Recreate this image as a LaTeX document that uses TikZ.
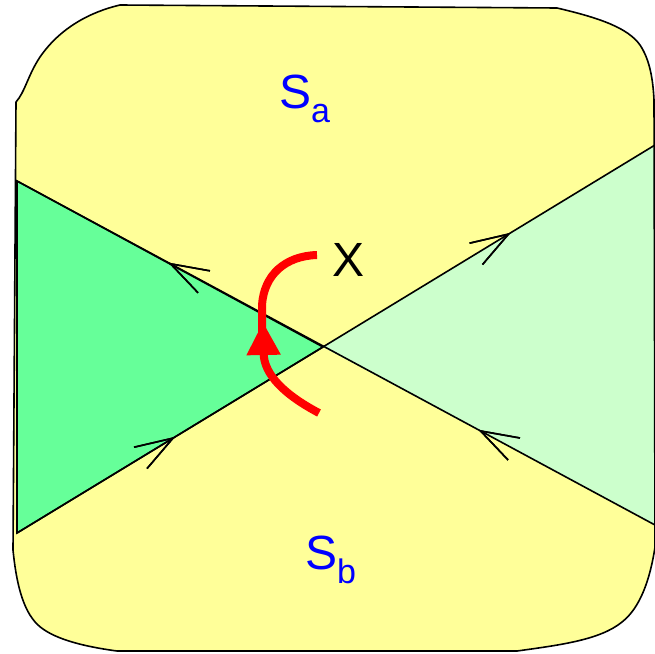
\documentclass[tikz,border=0pt]{standalone}
\usepackage{fontspec}
\setmainfont{Liberation Sans}
\usetikzlibrary{arrows.meta,decorations.markings}
\definecolor{yel}{HTML}{FFFF99}
\definecolor{gdark}{HTML}{66FF99}
\definecolor{glight}{HTML}{CCFFCC}
\tikzset{
  edge/.style={draw=black, line width=1.6pt},
  barb/.style={decoration={markings, mark=at position #1 with {\arrow{Straight Barb[length=38pt,width=25pt]}}}, postaction=decorate},
  lab/.style={inner sep=0pt, anchor=base west, font=\fontsize{48}{48}\selectfont},
  redline/.style={draw=red, line width=8pt}
}
\newcommand{\subtxt}[1]{\raisebox{-14pt}{\fontsize{34}{34}\selectfont #1}}
\begin{document}
\begin{tikzpicture}[x=1pt,y=-1pt]
\useasboundingbox (0,0) rectangle (655,653);
% outline shape
\coordinate (A) at (17,181);
\coordinate (B) at (655,525);
\coordinate (C) at (17,533);
\coordinate (D) at (655,145);
\coordinate (O) at (323,347);
\path[fill=yel] (16,102) .. controls (25,92) and (28,75) .. (40,57) .. controls (60,28) and (90,12) .. (120,5) -- (557,8) .. controls (600,18) and (628,28) .. (640,45) .. controls (650,60) and (653,80) .. (654,100) -- (655,547) .. controls (650,580) and (640,608) .. (622,622) .. controls (600,640) and (560,645) .. (517,651) -- (117,651) .. controls (80,646) and (52,638) .. (38,625) .. controls (22,610) and (16,580) .. (13,550) -- cycle;
\path[fill=gdark, edge] (A) -- (O) -- (C) -- cycle;
\path[fill=glight] (D) -- (O) -- (B) -- cycle;
\draw[edge, barb=0.277, barb=0.763] (B) -- (A);
\draw[edge, barb=0.248, barb=0.774] (C) -- (D);
\draw[edge, line join=round] (16,102) .. controls (25,92) and (28,75) .. (40,57) .. controls (60,28) and (90,12) .. (120,5) -- (557,8) .. controls (600,18) and (628,28) .. (640,45) .. controls (650,60) and (653,80) .. (654,100) -- (655,547) .. controls (650,580) and (640,608) .. (622,622) .. controls (600,640) and (560,645) .. (517,651) -- (117,651) .. controls (80,646) and (52,638) .. (38,625) .. controls (22,610) and (16,580) .. (13,550) -- cycle;
% red arrow
\coordinate (r1) at (319,413);
\coordinate (r2) at (263,322);
\coordinate (r3) at (262,335);
\coordinate (r4) at (317,255);
\draw[redline, -{Triangle[length=33pt,width=32pt]}] (r1) .. controls (285,395) and (264,375) .. (r2);
\draw[redline] (r3) -- (262,305) .. controls (264,275) and (285,256) .. (r4);
% labels
\node[lab, text=blue] (sa) at (279,108) {S\subtxt{a}};
\node[lab, text=blue] (sb) at (305,569) {S\subtxt{b}};
\node[lab, text=black] (x) at (332,276) {X};
\end{tikzpicture}
\end{document}
